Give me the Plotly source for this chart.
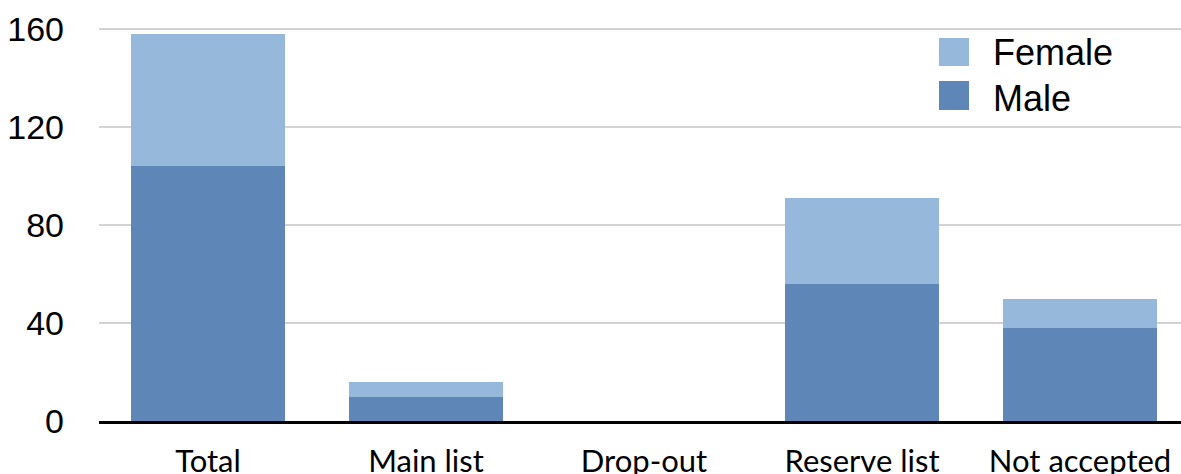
import plotly.graph_objects as go

categories = ["Total", "Main list", "Drop-out", "Reserve list", "Not accepted"]
male = [104, 10, 0, 56, 38]
female = [54, 6, 0, 35, 12]
y_ticks = [0, 40, 80, 120, 160]

MALE_C = "#5E87B8"
FEMALE_C = "#96B8DB"

W, H = 1181, 474
ML, MR, MT, MB = 99, 0, 0, 53
PW = W - ML - MR
PH = H - MT - MB

fig = go.Figure()
fig.add_trace(go.Bar(x=categories, y=male, name="Male", marker=dict(color=MALE_C, line=dict(width=0)), showlegend=False))
fig.add_trace(go.Bar(x=categories, y=female, name="Female", marker=dict(color=FEMALE_C, line=dict(width=0)), showlegend=False))

cat_px = 218.0
x_hi = -0.5 + PW / cat_px
y_hi = PH / 2.45

def px_x(p):
    return (p - ML) / PW

def px_y(p):
    return (H - MB - p) / PH

shapes = []
annotations = []
for name, col, y0, y1, ty in [("Female", FEMALE_C, 38, 66, 53), ("Male", MALE_C, 81, 110, 98)]:
    shapes.append(dict(type="rect", xref="paper", yref="paper", x0=px_x(939), x1=px_x(969),
                       y0=px_y(y1), y1=px_y(y0), fillcolor=col, line=dict(width=0), layer="above"))
    annotations.append(dict(text=name, xref="paper", yref="paper", x=px_x(991), y=px_y(ty),
                            xanchor="left", yanchor="middle", showarrow=False,
                            font=dict(family="Liberation Sans, Arial, sans-serif", size=36, color="black")))

fig.update_layout(
    barmode="stack",
    bargap=0.29,
    width=W, height=H,
    margin=dict(l=ML, r=MR, t=MT, b=MB, pad=0, autoexpand=False),
    plot_bgcolor="white", paper_bgcolor="white",
    shapes=shapes, annotations=annotations,
    xaxis=dict(range=[-0.5, x_hi], showgrid=False, showline=True, linecolor="black", linewidth=2.5,
               ticks="", ticklabelstandoff=11, automargin=False,
               tickfont=dict(family="Lato, sans-serif", size=31, color="black")),
    yaxis=dict(range=[0, y_hi], tickvals=y_ticks, showgrid=True, gridcolor="#D3D3D3", gridwidth=1.5,
               zeroline=False, showline=False, ticks="", ticklabelstandoff=34, automargin=False,
               tickfont=dict(family="Liberation Sans, Arial, sans-serif", size=34, color="black")),
)

fig.write_html("out.html", config={"displayModeBar": False},
               post_script="document.body.style.margin='0';document.body.style.overflow='hidden';")
